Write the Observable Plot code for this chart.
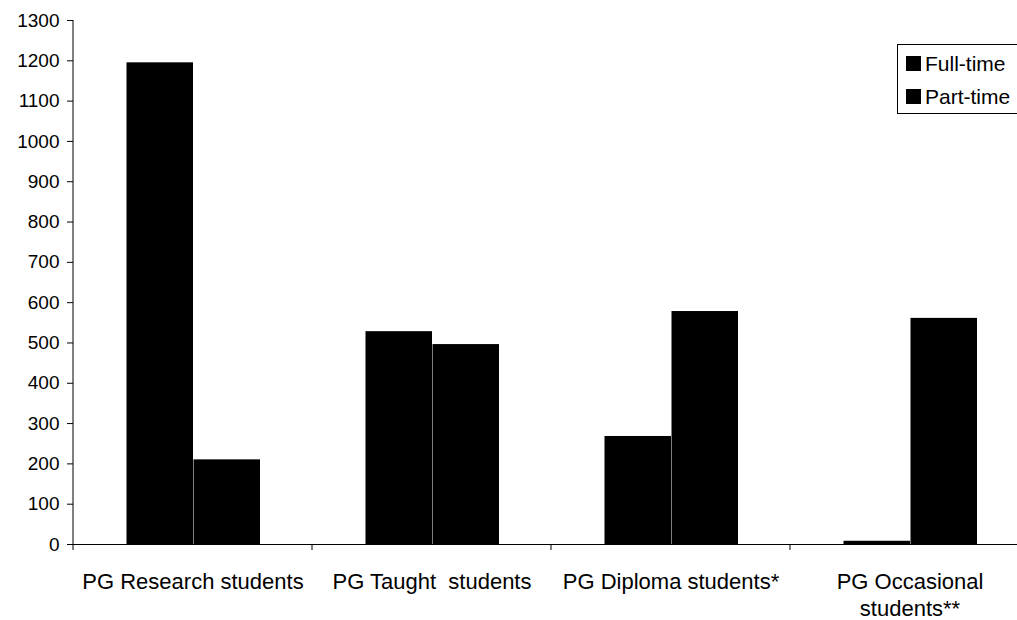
<!DOCTYPE html>
<html>
<head>
<meta charset="utf-8">
<script src="https://cdn.jsdelivr.net/npm/d3@7"></script>
<script src="https://cdn.jsdelivr.net/npm/@observablehq/plot@0.6"></script>
<style>
  html, body { margin: 0; padding: 0; background: #fff; }
  #wrap { position: relative; width: 1017px; height: 620px; overflow: hidden; font-family: "Liberation Sans", Arial, sans-serif; }
  svg text { white-space: pre; }
  #legend { position: absolute; left: 897px; top: 44px; width: 140px; height: 70px; border: 1px solid #000; box-sizing: border-box; background: #fff; }
  .item { position: absolute; left: 8px; font-size: 21px; line-height: 1; color: #000; display: flex; align-items: center; }
  .sw { width: 15px; height: 15px; background: #000; margin-right: 4px; }
</style>
</head>
<body>
<div id="wrap"></div>
<script>
const categories = ["PG Research students", "PG Taught  students", "PG Diploma students*", "PG Occasional\nstudents**"];
const seriesNames = ["Full-time", "Part-time"];
const fullTime = [1195, 528, 268, 8];
const partTime = [210, 496, 578, 561];
const yTicks = [0, 100, 200, 300, 400, 500, 600, 700, 800, 900, 1000, 1100, 1200, 1300];

const rows = [];
categories.forEach((c, i) => {
  rows.push({category: c, series: seriesNames[0], value: fullTime[i]});
  rows.push({category: c, series: seriesNames[1], value: partTime[i]});
});

const plot = Plot.plot({
  width: 1017,
  height: 620,
  marginLeft: 73,
  marginRight: -12,
  marginTop: 20,
  marginBottom: 76,
  style: {fontFamily: "Liberation Sans, Arial, sans-serif", background: "#fff", color: "#000"},
  fx: {domain: categories, paddingInner: 0, paddingOuter: 0, label: null},
  x: {domain: seriesNames, paddingInner: 0, paddingOuter: 0.77, axis: null},
  y: {domain: [0, 1300], label: null},
  marks: [
    Plot.barY(rows, {fx: "category", x: "series", y: "value", fill: "#000", insetLeft: 0.5, insetRight: 0}),
    Plot.ruleY([0], {stroke: "#000", strokeWidth: 1}),
    Plot.axisY({ticks: yTicks, tickFormat: d => String(d), tickSize: 6, tickPadding: 8, fontSize: 19, label: null}),
    Plot.axisFx({anchor: "bottom", tickSize: 0, tickPadding: 26, fontSize: 22, lineHeight: 1.2, label: null})
  ]
});

document.getElementById("wrap").appendChild(plot);

// axis line on the left and category boundary ticks, placed with the library's scales
const fx = plot.scale("fx");
const ys = plot.scale("y");
const svg = d3.select(plot);
const y0 = ys.apply(0), yTop = ys.apply(1300);
const x0 = fx.apply(categories[0]);
svg.append("line").attr("x1", x0).attr("x2", x0).attr("y1", yTop).attr("y2", y0).attr("stroke", "#000");
const bounds = categories.map(c => fx.apply(c)).concat([fx.apply(categories[categories.length - 1]) + fx.bandwidth]);
bounds.forEach(b => {
  svg.append("line").attr("x1", b).attr("x2", b).attr("y1", y0).attr("y2", y0 + 6).attr("stroke", "#000");
});

// legend
const legend = document.createElement("div");
legend.id = "legend";
seriesNames.forEach((s, i) => {
  const it = document.createElement("div");
  it.className = "item";
  it.style.top = (i === 0 ? 8 : 41) + "px";
  const sw = document.createElement("span");
  sw.className = "sw";
  it.appendChild(sw);
  it.appendChild(document.createTextNode(s));
  legend.appendChild(it);
});
document.getElementById("wrap").appendChild(legend);
</script>
</body>
</html>
